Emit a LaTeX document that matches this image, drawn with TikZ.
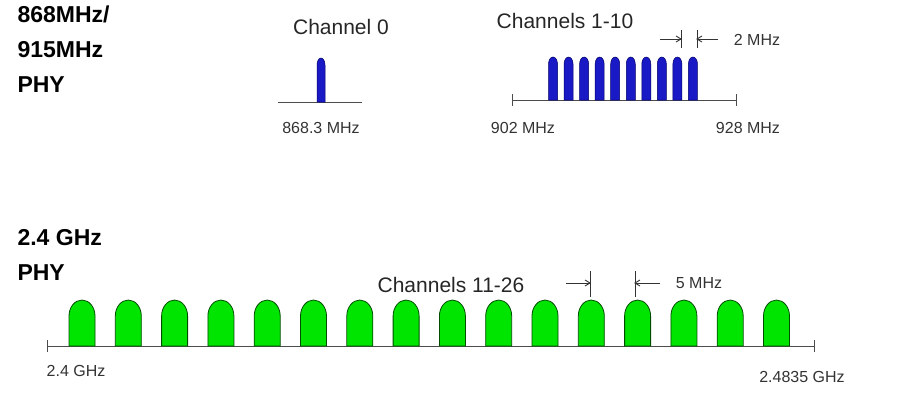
\documentclass[tikz,border=0pt]{standalone}
\usepackage{fontspec}
\setmainfont{Liberation Sans}
\begin{document}
\begin{tikzpicture}[x=1pt,y=-1pt,
  base/.style={draw=black!70,line width=1pt},
  bpulse/.style={fill=blue!75!black!90,draw=blue!40!black,line width=0.5pt},
  gpulse/.style={fill=green!90!black,draw=black!70!green,line width=0.8pt},
  lbl/.style={font=\fontsize{16}{17}\selectfont,text=black!80},
  big/.style={font=\fontsize{21}{23}\selectfont,text=black!85},
  head/.style={font=\bfseries\fontsize{23}{35}\selectfont,align=left,anchor=north west},
  dim/.style={draw=black!80,line width=0.9pt}]
\useasboundingbox (0,0) rectangle (900,405);
\node[head] (h1) at (14,2) {868MHz/\\915MHz\\PHY};
\node[head] (h2) at (14,226) {2.4 GHz\\PHY};
% channel 0
\coordinate (a0) at (278,102); \coordinate (a1) at (362,102);
\draw[base] (a0) -- (a1);
\draw[bpulse] (317,102) -- (317,65) arc (180:360:4 and 7) -- (325,102) -- cycle;
\node[big] (c0) at (341,27) {Channel 0};
\node[lbl] (f0) at (321,128) {868.3 MHz};
% channels 1-10
\coordinate (b0) at (512,100); \coordinate (b1) at (736,100);
\draw[base] (b0) -- (b1);
\draw[base] (512,94) -- (512,106) (736,94) -- (736,106);
\foreach \i in {0,...,9}{
  \pgfmathsetmacro{\cx}{553+15.55*\i}
  \draw[bpulse] (\cx-4.5,100) -- (\cx-4.5,64) arc (180:360:4.5 and 7) -- (\cx+4.5,100) -- cycle;}
\node[big] (c1) at (565,21) {Channels 1-10};
\node[lbl] (f1) at (523,128) {902 MHz};
\node[lbl] (f2) at (748,128) {928 MHz};
\draw[dim] (681,30) -- (681,48) (697,30) -- (697,48);
\coordinate (m1) at (660,39); \coordinate (m2) at (681,39);
\coordinate (m3) at (718,39); \coordinate (m4) at (697,39);
\draw[dim] (m1) -- (m2); \draw[dim] (m3) -- (m4);
\draw[dim] (676,36) -- (681,39) -- (676,42);
\draw[dim] (702,36) -- (697,39) -- (702,42);
\node[lbl] (t2) at (757,40) {2 MHz};
% 2.4 GHz
\coordinate (g0) at (47,346); \coordinate (g1) at (814,346);
\draw[base] (g0) -- (g1);
\draw[base] (47,340) -- (47,352) (814,340) -- (814,352);
\foreach \i in {0,...,15}{
  \pgfmathsetmacro{\cx}{82+46.3*\i}
  \draw[gpulse] (\cx-13,346) -- (\cx-13,316) arc (180:360:13 and 16) -- (\cx+13,346) -- cycle;}
\node[big] (c2) at (451,285) {Channels 11-26};
\draw[dim] (590,271) -- (590,297) (635,271) -- (635,297);
\draw[dim] (566,283) -- (590,283) (660,283) -- (635,283);
\draw[dim] (585,280) -- (590,283) -- (585,286);
\draw[dim] (640,280) -- (635,283) -- (640,286);
\node[lbl] (t5) at (699,283) {5 MHz};
\node[lbl] (g24) at (76,371) {2.4 GHz};
\node[lbl] (g248) at (802,377) {2.4835 GHz};
\end{tikzpicture}
\end{document}
